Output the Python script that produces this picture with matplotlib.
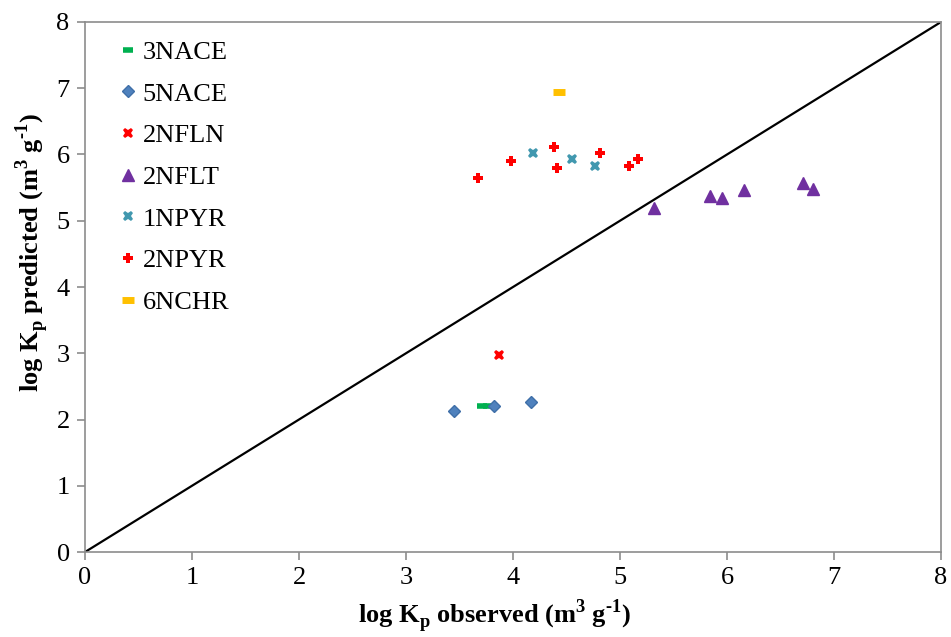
import matplotlib
matplotlib.use("Agg")
import matplotlib.pyplot as plt

plt.rcParams['font.family'] = ['Liberation Serif', 'DejaVu Serif']
plt.rcParams['mathtext.fontset'] = 'custom'
plt.rcParams['mathtext.rm'] = 'Liberation Serif'
plt.rcParams['mathtext.bf'] = 'Liberation Serif:bold'

# data (observed, predicted)
nace3_x = [3.71, 3.77]
nace3_y = [2.21, 2.21]
nace5_x = [3.45, 3.82, 4.17]
nace5_y = [2.13, 2.21, 2.27]
nfln2_x = [3.87]
nfln2_y = [2.97]
nflt2_x = [5.32, 5.84, 5.95, 6.16, 6.71, 6.80]
nflt2_y = [5.19, 5.37, 5.35, 5.46, 5.57, 5.48]
npyr1_x = [4.19, 4.55, 4.77]
npyr1_y = [6.02, 5.93, 5.83]
npyr2_x = [3.67, 3.98, 4.38, 4.41, 4.81, 5.08, 5.17]
npyr2_y = [5.64, 5.90, 6.12, 5.79, 6.02, 5.83, 5.93]
nchr6_x = [4.43]
nchr6_y = [6.95]

fig = plt.figure(figsize=(9.51, 6.37), dpi=100)
ax = fig.add_axes([0.0894, 0.1334, 0.9001, 0.8321])

ax.plot([0, 8], [0, 8], color='black', lw=1.6, zorder=1)

ax.plot(nace3_x, nace3_y, ls='none', marker='_', ms=7, mew=4, color='#00B050', label='3NACE', zorder=3)
ax.plot(nace5_x, nace5_y, ls='none', marker='D', ms=6.5, color='#4F81BD', mec='#3F6FA8', label='5NACE', zorder=4)
ax.plot(nfln2_x, nfln2_y, ls='none', marker='X', ms=7.5, color='#FF0000', mew=0, label='2NFLN', zorder=3)
ax.plot(nflt2_x, nflt2_y, ls='none', marker='^', ms=8, color='#7030A0', label='2NFLT', zorder=3)
ax.plot(npyr1_x, npyr1_y, ls='none', marker='X', ms=7.5, color='#4198AF', mew=0, label='1NPYR', zorder=3)
ax.plot(npyr2_x, npyr2_y, ls='none', marker='P', ms=6.5, color='#FF0000', mew=0, label='2NPYR', zorder=3)
ax.plot(nchr6_x, nchr6_y, ls='none', marker='_', ms=9, mew=5, color='#FFC000', label='6NCHR', zorder=3)

ax.set_xlim(0, 8)
ax.set_ylim(0, 8)
ax.set_xticks(range(9))
ax.set_yticks(range(9))
for s in ax.spines.values():
    s.set_color('#8C8C8C')
    s.set_linewidth(1.2)
ax.tick_params(direction='out', length=6, width=1.2, color='#8C8C8C', labelsize=19, pad=5)

ax.set_xlabel('log K$_\\mathbf{p}$ observed (m$^\\mathbf{3}$ g$^\\mathbf{\u20101}$)',
              fontsize=19, fontweight='bold')
ax.xaxis.set_label_coords(0.479, -0.085)
ax.set_ylabel('log K$_\\mathbf{p}$ predicted (m$^\\mathbf{3}$ g$^\\mathbf{\u20101}$)',
              fontsize=19, fontweight='bold')
ax.yaxis.set_label_coords(-0.04, 0.565)

ax.legend(loc='upper left', frameon=False, fontsize=19, handlelength=0.5, handletextpad=0.3,
          labelspacing=0.69, borderaxespad=0.3, bbox_to_anchor=(0.021, 1.0))

fig.savefig('out.png', dpi=100)
